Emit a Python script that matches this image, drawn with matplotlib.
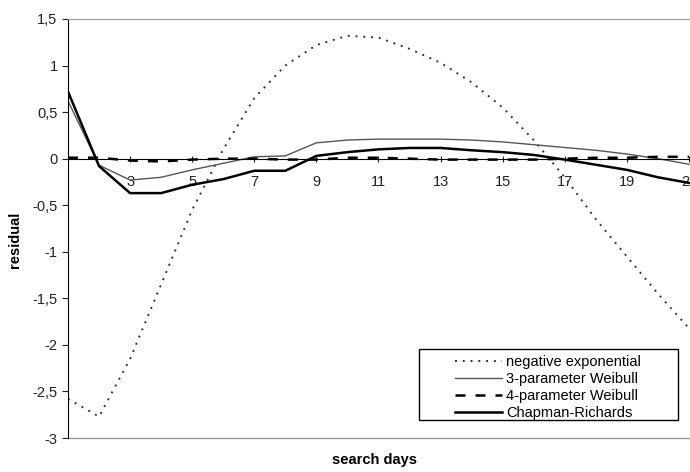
import matplotlib
matplotlib.use('Agg')
import matplotlib.pyplot as plt
from matplotlib import rc
from matplotlib.patches import Rectangle

rc('font', family=['Liberation Sans', 'DejaVu Sans'], size=10.5)

days = list(range(1, 22))
neg_exp = [-2.58, -2.77, -2.15, -1.35, -0.55, 0.1, 0.65, 1.0, 1.22, 1.32, 1.3,
           1.18, 1.03, 0.82, 0.55, 0.2, -0.2, -0.65, -1.05, -1.45, -1.82]
weib3 = [0.62, -0.07, -0.23, -0.2, -0.12, -0.05, 0.02, 0.03, 0.17, 0.2, 0.21,
         0.21, 0.21, 0.2, 0.18, 0.15, 0.12, 0.09, 0.05, 0.0, -0.06]
weib4 = [0.01, 0.01, -0.02, -0.03, -0.01, 0.0, 0.0, -0.01, -0.01, 0.01, 0.01,
         0.0, -0.01, -0.01, -0.01, -0.01, 0.0, 0.01, 0.01, 0.02, 0.02]
chapman = [0.72, -0.08, -0.37, -0.37, -0.28, -0.22, -0.13, -0.13, 0.03, 0.07, 0.1,
           0.115, 0.115, 0.09, 0.07, 0.04, -0.01, -0.065, -0.12, -0.2, -0.26]

xticks = [3, 5, 7, 9, 11, 13, 15, 17, 19, 21]
yticks = [-3, -2.5, -2, -1.5, -1, -0.5, 0, 0.5, 1, 1.5]
ylabels = ['-3', '-2,5', '-2', '-1,5', '-1', '-0,5', '0', '0,5', '1', '1,5']

fig = plt.figure(figsize=(6.9, 4.72), dpi=100)
ax = fig.add_axes([68/690, 1-438/472, 624/690, 419/472])

l1, = ax.plot(days, neg_exp, color='#333333', ls=(0, (1, 3)), lw=1.4)
l2, = ax.plot(days, weib3, color='#555555', lw=1.0)
l3, = ax.plot(days, weib4, color='black', ls=(0, (4, 4)), lw=1.8)
l4, = ax.plot(days, chapman, color='black', lw=1.8)

ax.set_xlim(1, 21.1)
ax.set_ylim(-3, 1.5)
ax.set_yticks(yticks)
ax.set_yticklabels(ylabels)
ax.set_xticks(xticks)
ax.set_xticklabels([str(x) for x in xticks])

ax.spines['bottom'].set_position(('data', 0))
ax.spines['bottom'].set_color('black')
ax.spines['top'].set_color('#999999')
ax.spines['right'].set_visible(False)
ax.axhline(-3, color='#999999', lw=1.0, clip_on=False)
ax.tick_params(axis='x', direction='inout', length=5, pad=9, colors='#222222')
ax.tick_params(axis='y', direction='out', length=4, colors='#222222')

fig.text(375/690, 1-460/472, 'search days', ha='center', va='center',
         fontweight='bold', fontsize=10.5)
fig.text(15/690, 1-240/472, 'residual', ha='center', va='center',
         rotation=90, fontweight='bold', fontsize=10.5)

# legend frame drawn by hand so the padding matches
box = Rectangle((419/690, 1-420/472), 259/690, 71/472,
                transform=fig.transFigure, facecolor='white',
                edgecolor='black', lw=1.0, zorder=4, clip_on=False)
ax.add_patch(box)
leg = ax.legend([l1, l2, l3, l4],
                ['negative exponential', '3-parameter Weibull',
                 '4-parameter Weibull', 'Chapman-Richards'],
                loc='upper left', bbox_to_anchor=(455/690, 1-355/472),
                bbox_transform=fig.transFigure, fontsize=10.5, handlelength=3.2,
                handletextpad=0.3, labelspacing=0.2, borderpad=0.0,
                borderaxespad=0, frameon=False)
leg.set_zorder(5)

fig.savefig('out.png', dpi=100)
